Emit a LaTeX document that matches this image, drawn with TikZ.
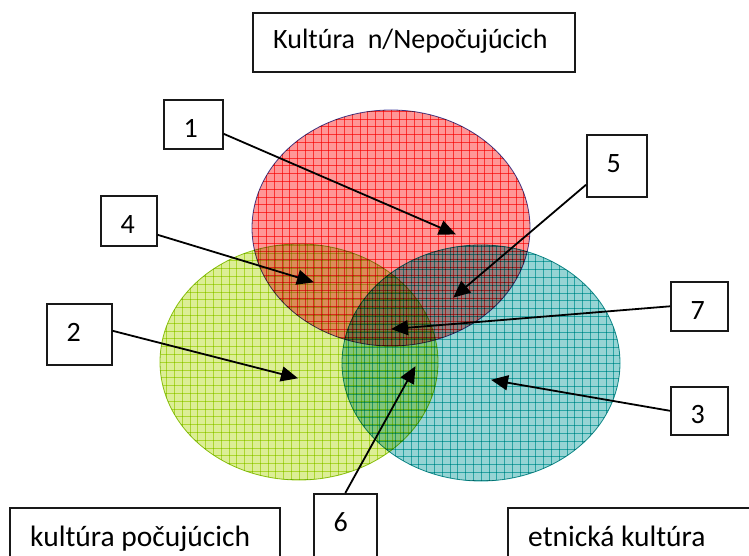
\documentclass[tikz,border=0pt]{standalone}
\usepackage{fontspec}
\setmainfont{Carlito}
\usetikzlibrary{arrows.meta}
\definecolor{redbg}{RGB}{255,150,150}
\definecolor{redln}{RGB}{250,85,85}
\definecolor{redout}{RGB}{70,70,165}
\definecolor{grnbg}{RGB}{220,238,150}
\definecolor{grnln}{RGB}{200,230,80}
\definecolor{grnout}{RGB}{150,200,20}
\definecolor{tealbg}{RGB}{150,212,212}
\definecolor{tealln}{RGB}{70,198,198}
\definecolor{tealout}{RGB}{20,150,150}
\definecolor{ink}{RGB}{25,25,25}
\newcommand\hatchell[5]{%
  \fill[#3] (#1,#2) ellipse [x radius=139, y radius=118];
  \begin{scope}
    \clip (#1,#2) ellipse [x radius=139, y radius=118];
    \foreach \k in {-18,...,18} {\draw[#4, gridln] (#1+\k*7.8, #2-120) -- (#1+\k*7.8, #2+120);}
    \foreach \k in {-16,...,16} {\draw[#4, gridln] (#1-141, #2+\k*7.8) -- (#1+141, #2+\k*7.8);}
  \end{scope}
  \draw[#5, line width=0.8pt] (#1,#2) ellipse [x radius=139, y radius=118];
}
\tikzset{
  gridln/.style={line width=0.5pt},
  box/.style={draw=ink, line width=1.6pt, fill=white, anchor=north west, inner sep=0pt},
  txt/.style={anchor=base west, inner sep=0pt, text=black, font=\fontsize{28pt}{34pt}\selectfont},
  bigtxt/.style={txt, font=\fontsize{29.5pt}{35pt}\selectfont},
  arr/.style={draw=black, line width=1.8pt, -{Triangle[length=17pt, width=15pt]}, shorten >=-1pt}
}
\begin{document}
\begin{tikzpicture}[x=1pt, y=-1pt]
\useasboundingbox (0,0) rectangle (749,556);
\clip (0,0) rectangle (749,556);

\begin{scope}[blend mode=multiply]
  \hatchell{481}{363}{tealbg}{tealln}{tealout}
  \hatchell{391}{228}{redbg}{redln}{redout}
  \hatchell{299}{362}{grnbg}{grnln}{grnout}
\end{scope}

% boxes
\node[box, minimum width=322pt, minimum height=59pt] (title) at (252,12) {};
\node[box, minimum width=59pt, minimum height=49pt] (b1) at (163,99) {};
\node[box, minimum width=56pt, minimum height=50pt] (b4) at (100,195) {};
\node[box, minimum width=65pt, minimum height=61pt] (b2) at (46,303) {};
\node[box, minimum width=60pt, minimum height=62pt] (b5) at (586,134) {};
\node[box, minimum width=57pt, minimum height=49pt] (b7) at (670,281) {};
\node[box, minimum width=57pt, minimum height=48pt] (b3) at (670,386) {};
\node[box, minimum width=63pt, minimum height=80pt] (b6) at (313,493) {};
\node[box, minimum width=270pt, minimum height=70pt] (hear) at (9,507) {};
\node[box, minimum width=260pt, minimum height=70pt] (eth) at (507,507) {};

% texts
\node[txt] (ttitle) at ([xshift=21pt, yshift=-37pt]title.north west) {Kultúra~~n/Nepočujúcich};
\node[txt] (t1) at ([xshift=20.5pt, yshift=-38.5pt]b1.north west) {1};
\node[txt] (t4) at ([xshift=20.5pt, yshift=-38.5pt]b4.north west) {4};
\node[txt] (t2) at ([xshift=20.5pt, yshift=-38.5pt]b2.north west) {2};
\node[txt] (t5) at ([xshift=20.5pt, yshift=-38.5pt]b5.north west) {5};
\node[txt] (t7) at ([xshift=20.5pt, yshift=-38.5pt]b7.north west) {7};
\node[txt] (t3) at ([xshift=20.5pt, yshift=-37.5pt]b3.north west) {3};
\node[txt] (t6) at ([xshift=20.5pt, yshift=-38.5pt]b6.north west) {6};
\node[bigtxt] (thear) at ([xshift=21pt, yshift=-39pt]hear.north west) {kultúra počujúcich};
\node[bigtxt] (teth) at ([xshift=21pt, yshift=-39pt]eth.north west) {etnická kultúra};

% arrow tips
\coordinate (p1) at (455,234);
\coordinate (p4) at (313,282);
\coordinate (p2) at (297,378);
\coordinate (p5) at (454,297);
\coordinate (p7) at (392,329);
\coordinate (p3) at (492,380);
\coordinate (p6) at (415,367);

\draw[arr] ([yshift=-9.5pt]b1.east) -- (p1);
\draw[arr] ([yshift=-14pt]b4.east) -- (p4);
\draw[arr] ([yshift=3.5pt]b2.east) -- (p2);
\draw[arr] ([yshift=-19pt]b5.west) -- (p5);
\draw[arr] (b7.west) -- (p7);
\draw[arr] (b3.west) -- (p3);
\draw[arr] (b6.north) -- (p6);
\end{tikzpicture}
\end{document}
